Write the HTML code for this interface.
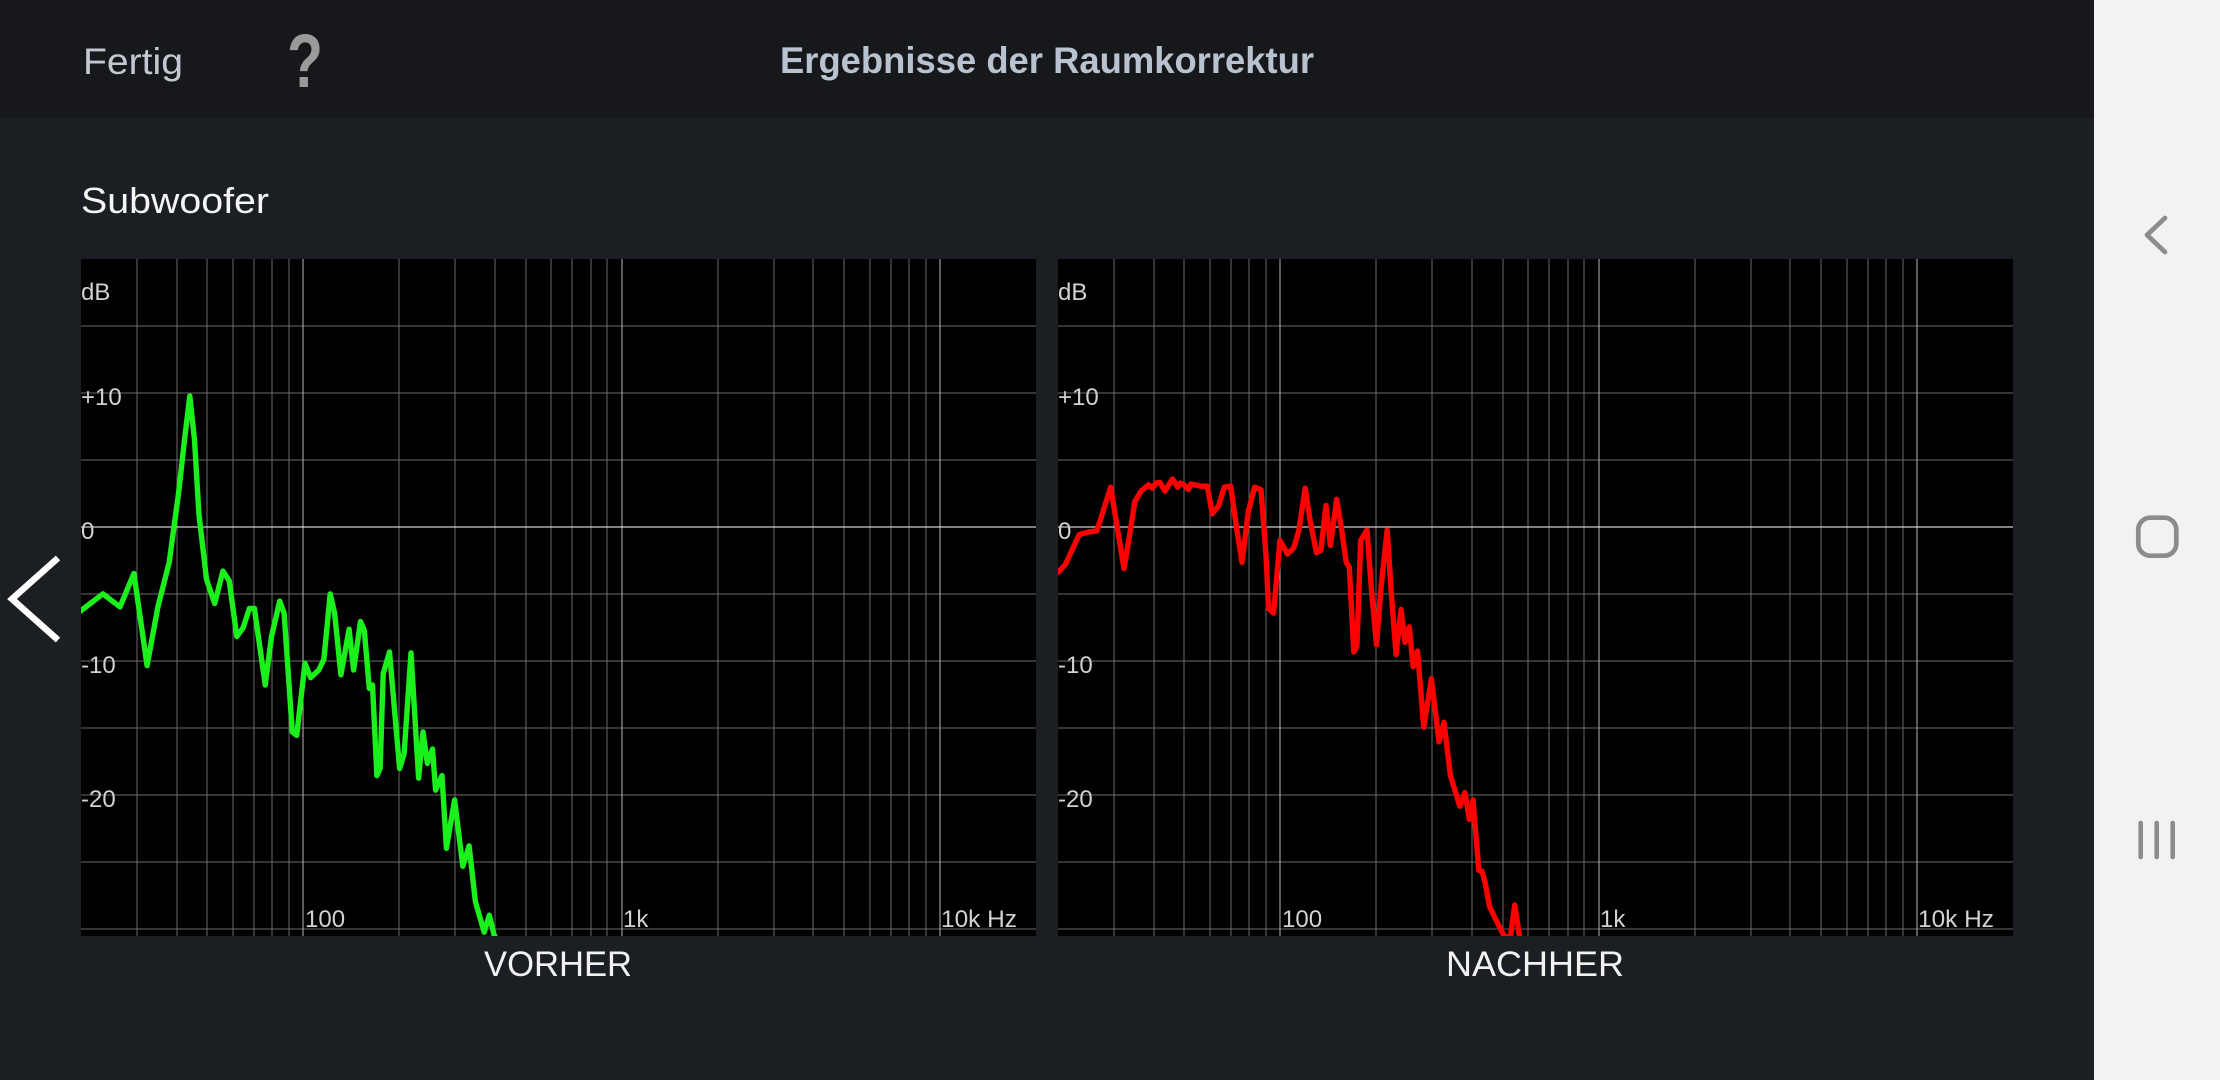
<!DOCTYPE html>
<html>
<head>
<meta charset="utf-8">
<style>
html,body{margin:0;padding:0;background:#1b1e22;}
svg{display:block;}
text{font-family:"Liberation Sans",sans-serif;}
</style>
</head>
<body>
<svg width="2220" height="1080" viewBox="0 0 2220 1080" xmlns="http://www.w3.org/2000/svg">
<defs>
<clipPath id="cl"><rect x="81" y="259" width="955" height="677"/></clipPath>
<clipPath id="cr"><rect x="1058" y="259" width="955" height="677"/></clipPath>
</defs>
<!-- backgrounds -->
<rect x="0" y="0" width="2220" height="1080" fill="#1b1e22"/>
<rect x="0" y="0" width="2094" height="118" fill="#16181c"/>
<rect x="2094" y="0" width="126" height="1080" fill="#f2f2f2"/>

<!-- header -->
<text x="83" y="74" font-size="37" fill="#c2c8d0" textLength="100" lengthAdjust="spacingAndGlyphs">Fertig</text>
<text x="287" y="87" font-size="76" font-weight="bold" fill="#9a9a9a" textLength="36" lengthAdjust="spacingAndGlyphs">?</text>
<text x="780" y="73" font-size="37" font-weight="bold" fill="#b9c3cf" textLength="534" lengthAdjust="spacingAndGlyphs">Ergebnisse der Raumkorrektur</text>

<text x="81" y="213" font-size="36" fill="#f5f5f5" textLength="188" lengthAdjust="spacingAndGlyphs">Subwoofer</text>

<!-- left arrow -->
<polyline points="58,558 12,599 58,640" fill="none" stroke="#ffffff" stroke-width="6.5" stroke-linecap="butt" stroke-linejoin="miter"/>

<!-- nav icons -->
<polyline points="2165,218 2147,235 2165,252" fill="none" stroke="#8c8c8c" stroke-width="4.7" stroke-linecap="round" stroke-linejoin="round"/>
<rect x="2138.3" y="517.7" width="38" height="38" rx="12" fill="none" stroke="#8c8c8c" stroke-width="4.7"/>
<line x1="2140.7" y1="823" x2="2140.7" y2="857" stroke="#8c8c8c" stroke-width="4.6" stroke-linecap="round"/>
<line x1="2156.7" y1="823" x2="2156.7" y2="857" stroke="#8c8c8c" stroke-width="4.6" stroke-linecap="round"/>
<line x1="2172.7" y1="823" x2="2172.7" y2="857" stroke="#8c8c8c" stroke-width="4.6" stroke-linecap="round"/>

<!-- LEFT CHART -->
<rect x="81" y="259" width="955" height="677" fill="#000"/>
<g stroke="#6a6a6a" stroke-width="1" shape-rendering="crispEdges">
<line x1="137" y1="259" x2="137" y2="936"/>
<line x1="177" y1="259" x2="177" y2="936"/>
<line x1="207" y1="259" x2="207" y2="936"/>
<line x1="233" y1="259" x2="233" y2="936"/>
<line x1="254" y1="259" x2="254" y2="936"/>
<line x1="272" y1="259" x2="272" y2="936"/>
<line x1="289" y1="259" x2="289" y2="936"/>
<line x1="399" y1="259" x2="399" y2="936"/>
<line x1="455" y1="259" x2="455" y2="936"/>
<line x1="495" y1="259" x2="495" y2="936"/>
<line x1="526" y1="259" x2="526" y2="936"/>
<line x1="551" y1="259" x2="551" y2="936"/>
<line x1="572" y1="259" x2="572" y2="936"/>
<line x1="591" y1="259" x2="591" y2="936"/>
<line x1="607" y1="259" x2="607" y2="936"/>
<line x1="718" y1="259" x2="718" y2="936"/>
<line x1="774" y1="259" x2="774" y2="936"/>
<line x1="813" y1="259" x2="813" y2="936"/>
<line x1="844" y1="259" x2="844" y2="936"/>
<line x1="870" y1="259" x2="870" y2="936"/>
<line x1="891" y1="259" x2="891" y2="936"/>
<line x1="909" y1="259" x2="909" y2="936"/>
<line x1="926" y1="259" x2="926" y2="936"/>
<line x1="81" y1="326" x2="1036" y2="326"/>
<line x1="81" y1="393" x2="1036" y2="393"/>
<line x1="81" y1="460" x2="1036" y2="460"/>
<line x1="81" y1="594" x2="1036" y2="594"/>
<line x1="81" y1="661" x2="1036" y2="661"/>
<line x1="81" y1="728" x2="1036" y2="728"/>
<line x1="81" y1="795" x2="1036" y2="795"/>
<line x1="81" y1="862" x2="1036" y2="862"/>
<line x1="81" y1="929" x2="1036" y2="929"/>
</g>
<g stroke="#b8b8b8" stroke-width="1" shape-rendering="crispEdges">
<line x1="303" y1="259" x2="303" y2="936"/>
<line x1="622" y1="259" x2="622" y2="936"/>
<line x1="940" y1="259" x2="940" y2="936"/>
</g>
<line x1="81" y1="527" x2="1036" y2="527" stroke="#ffffff" stroke-width="1.3" shape-rendering="crispEdges"/>
<g font-size="24" fill="#d2d2d2">
<text x="81" y="300">dB</text>
<text x="81" y="405">+10</text>
<text x="81" y="539">0</text>
<text x="81" y="673">-10</text>
<text x="81" y="807">-20</text>
<text x="305" y="927">100</text>
<text x="623" y="927">1k</text>
<text x="941" y="927" textLength="76" lengthAdjust="spacingAndGlyphs">10k Hz</text>
</g>
<g clip-path="url(#cl)">
<polyline fill="none" stroke="#1cf01c" stroke-width="5.4" stroke-linejoin="round" stroke-linecap="round" points="80.8,610.8 102.9,593.9 120,606.9 133.9,573.5 147.1,665.6 157.9,606.9 169.2,562.3 178.7,492.1 184.5,440 189.8,396 194.5,440 198.9,513.9 206.5,579.3 214.7,603.5 222.9,571.1 229.2,580.8 236.8,636.5 243.1,627.8 249.4,608.4 254.4,608.4 265.2,685 271.5,636.5 279.7,601.1 284.1,613.2 292.3,732 296.7,735.4 305,663.2 310.6,677.7 318.8,670 323.9,659.3 330.2,593.9 334.6,613.2 340.9,674.8 349.1,629.2 353.6,670 360.5,621.5 364.3,630.2 369.3,688.4 372.5,685 376.9,775.6 380.1,768.4 383.2,673.8 389.5,652 399.6,768.4 404.1,753.8 411,653 418.6,778.1 423,732 427.4,763.5 432.5,749 435.6,790.2 442,775.6 446.4,848.3 454.6,799.9 462.8,866.3 469.1,845.9 475.4,901.7 484.2,932.2 489.3,915.2 494.3,935.6 498.8,942"/>
</g>
<rect x="1036" y="259" width="22" height="677" fill="#1b1e22"/>

<!-- RIGHT CHART -->
<rect x="1058" y="259" width="955" height="677" fill="#000"/>
<g stroke="#6a6a6a" stroke-width="1" shape-rendering="crispEdges">
<line x1="1114" y1="259" x2="1114" y2="936"/>
<line x1="1154" y1="259" x2="1154" y2="936"/>
<line x1="1184" y1="259" x2="1184" y2="936"/>
<line x1="1210" y1="259" x2="1210" y2="936"/>
<line x1="1231" y1="259" x2="1231" y2="936"/>
<line x1="1249" y1="259" x2="1249" y2="936"/>
<line x1="1266" y1="259" x2="1266" y2="936"/>
<line x1="1376" y1="259" x2="1376" y2="936"/>
<line x1="1432" y1="259" x2="1432" y2="936"/>
<line x1="1472" y1="259" x2="1472" y2="936"/>
<line x1="1503" y1="259" x2="1503" y2="936"/>
<line x1="1528" y1="259" x2="1528" y2="936"/>
<line x1="1549" y1="259" x2="1549" y2="936"/>
<line x1="1568" y1="259" x2="1568" y2="936"/>
<line x1="1584" y1="259" x2="1584" y2="936"/>
<line x1="1695" y1="259" x2="1695" y2="936"/>
<line x1="1751" y1="259" x2="1751" y2="936"/>
<line x1="1790" y1="259" x2="1790" y2="936"/>
<line x1="1821" y1="259" x2="1821" y2="936"/>
<line x1="1847" y1="259" x2="1847" y2="936"/>
<line x1="1868" y1="259" x2="1868" y2="936"/>
<line x1="1886" y1="259" x2="1886" y2="936"/>
<line x1="1903" y1="259" x2="1903" y2="936"/>
<line x1="1058" y1="326" x2="2013" y2="326"/>
<line x1="1058" y1="393" x2="2013" y2="393"/>
<line x1="1058" y1="460" x2="2013" y2="460"/>
<line x1="1058" y1="594" x2="2013" y2="594"/>
<line x1="1058" y1="661" x2="2013" y2="661"/>
<line x1="1058" y1="728" x2="2013" y2="728"/>
<line x1="1058" y1="795" x2="2013" y2="795"/>
<line x1="1058" y1="862" x2="2013" y2="862"/>
<line x1="1058" y1="929" x2="2013" y2="929"/>
</g>
<g stroke="#b8b8b8" stroke-width="1" shape-rendering="crispEdges">
<line x1="1280" y1="259" x2="1280" y2="936"/>
<line x1="1599" y1="259" x2="1599" y2="936"/>
<line x1="1917" y1="259" x2="1917" y2="936"/>
</g>
<line x1="1058" y1="527" x2="2013" y2="527" stroke="#ffffff" stroke-width="1.3" shape-rendering="crispEdges"/>
<g font-size="24" fill="#d2d2d2">
<text x="1058" y="300">dB</text>
<text x="1058" y="405">+10</text>
<text x="1058" y="539">0</text>
<text x="1058" y="673">-10</text>
<text x="1058" y="807">-20</text>
<text x="1282" y="927">100</text>
<text x="1600" y="927">1k</text>
<text x="1918" y="927" textLength="76" lengthAdjust="spacingAndGlyphs">10k Hz</text>
</g>
<g clip-path="url(#cr)">
<polyline fill="none" stroke="#ff0000" stroke-width="5.4" stroke-linejoin="round" stroke-linecap="round" points="1058.3,572 1065.3,564.8 1079.1,534.7 1087.3,532.3 1096.8,530.8 1100,521.1 1110.7,487.2 1117,526 1124,568.6 1130.3,530.8 1134.7,501.8 1141,491.1 1148.6,484.8 1152.4,488.2 1156,483 1160,482.4 1165,491.1 1168,486 1172.6,479 1177.6,487.2 1180,483 1183.9,484.8 1188.4,489.6 1191,484 1194.7,484.8 1201,486.2 1207.3,486.2 1212.3,513.9 1218.7,505.6 1224.3,487.2 1230.7,486.2 1237,530.8 1242,562.3 1248.3,511.4 1254.6,487.2 1261,489.6 1266,555.1 1268.5,608.4 1273.6,613.2 1279.9,540.5 1287.5,554.1 1293.8,547.8 1298.8,530.8 1305.2,488.2 1310.2,521.1 1316.5,552.7 1320.9,550.2 1326,505.6 1330.4,545.4 1336.7,499.3 1341.8,530.8 1346.2,562.3 1349.3,567.2 1353.8,652 1356.9,646.2 1360.7,540.5 1367,529.9 1371.4,589 1376.5,644.8 1380.9,589 1387.2,529.9 1391,589 1396.1,654.4 1401.1,609.4 1404.9,642.3 1409.3,626.8 1413.1,666.6 1417.5,651.1 1423.8,727.2 1431.4,678.7 1439,741.7 1444,722.3 1450.4,775.6 1459.8,806.2 1464.9,792.6 1469.3,819.3 1473.1,799.9 1478.8,870.2 1481.9,871.1 1485.1,882.3 1489.5,906.5 1497.7,923.5 1504,935.6 1510.3,938 1514.7,905 1519.8,938 1532.4,942"/>
</g>
<rect x="2013" y="259" width="81" height="677" fill="#1b1e22"/>

<!-- captions -->
<text x="484" y="976" font-size="35" fill="#f2f2f2" textLength="148" lengthAdjust="spacingAndGlyphs">VORHER</text>
<text x="1446" y="976" font-size="35" fill="#f2f2f2" textLength="178" lengthAdjust="spacingAndGlyphs">NACHHER</text>
</svg>
</body>
</html>
